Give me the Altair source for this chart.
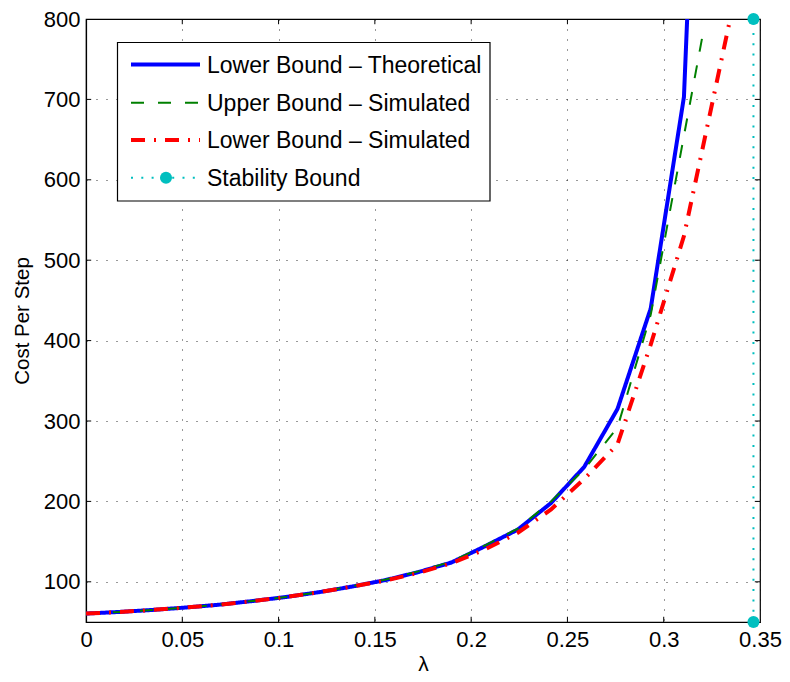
import altair as alt
import pandas as pd

# ---- data ----
lam_theory = [0.0, 0.01725, 0.0345, 0.05175, 0.069, 0.08625, 0.1035, 0.12075, 0.138, 0.15525,
              0.1725, 0.18975, 0.207, 0.22425, 0.2415, 0.25875, 0.276, 0.29325, 0.3105, 0.32775]
cost_theory = [60.5, 62.5, 65, 68, 71.5, 76, 81, 87, 94, 102,
               112, 124, 144, 165, 198, 243, 315, 440, 703, 1700]

lam_upper = [0.0, 0.01725, 0.0345, 0.05175, 0.069, 0.08625, 0.1035, 0.12075, 0.138, 0.15525,
             0.1725, 0.18975, 0.207, 0.22425, 0.2415, 0.25875, 0.276, 0.29325, 0.3206]
cost_upper = [60.5, 62.5, 65, 68, 71.5, 76, 81, 87, 94.5, 102.5,
              113, 125, 145, 166, 200, 240, 292, 432, 785]

lam_lower = [0.0, 0.01725, 0.0345, 0.05175, 0.069, 0.08625, 0.1035, 0.12075, 0.138, 0.15525,
             0.1725, 0.18975, 0.207, 0.22425, 0.2415, 0.25875, 0.276, 0.29325, 0.3105, 0.3345]
cost_lower = [60.5, 62.5, 65, 68, 71.5, 76, 81, 87, 94, 101.5,
              111, 123, 140, 161, 190, 228, 271, 395, 530, 800]

lam_stability = [0.3466, 0.3466]
cost_stability = [50, 800]

series_names = ["Lower Bound \u2013 Theoretical", "Upper Bound \u2013 Simulated",
                "Lower Bound \u2013 Simulated", "Stability Bound"]
series_colors = ["#0000ff", "#008000", "#ff0000", "#00bfbf"]
series_dash = [[1, 0], [13, 14], [14, 9, 2, 9], [2, 8.3]]
series_width = [4, 2, 4, 2]

x_ticks = [0, 0.05, 0.1, 0.15, 0.2, 0.25, 0.3, 0.35]
y_ticks = [100, 200, 300, 400, 500, 600, 700, 800]

FONT = "Liberation Sans"
W, H = 674, 603

xs = alt.Scale(domain=[0, 0.35], nice=False, zero=False)
ys = alt.Scale(domain=[50, 800], nice=False, zero=False)

series_data = [
    pd.DataFrame({"lam": lam_theory, "cost": cost_theory}),
    pd.DataFrame({"lam": lam_upper, "cost": cost_upper}),
    pd.DataFrame({"lam": lam_lower, "cost": cost_lower}),
    pd.DataFrame({"lam": lam_stability, "cost": cost_stability}),
]

layers = []

# base layer carrying the axes / grid
axis_base = alt.Chart(pd.DataFrame({"lam": [0.0], "cost": [50.0]})).mark_point(opacity=0).encode(
    x=alt.X("lam:Q", scale=xs, title="\u03bb",
            axis=alt.Axis(values=x_ticks, format="~g", grid=True, ticks=False,
                          gridDash=[1, 9], gridColor="#000000", gridOpacity=0.8,
                          labelFontSize=22, titleFontSize=21, labelPadding=7,
                          titlePadding=3, labelFlush=False)),
    y=alt.Y("cost:Q", scale=ys, title="Cost Per Step",
            axis=alt.Axis(values=y_ticks, grid=True, ticks=False,
                          gridDash=[1, 9], gridColor="#000000", gridOpacity=0.8,
                          labelFontSize=22, titleFontSize=20.5, labelPadding=6,
                          titlePadding=11, labelFlush=False)),
)
layers.append(axis_base)

for i in range(3):
    layers.append(
        alt.Chart(series_data[i]).mark_line(
            clip=True, color=series_colors[i], strokeDash=series_dash[i],
            strokeWidth=series_width[i], strokeCap="butt").encode(
            x=alt.X("lam:Q", scale=xs), y=alt.Y("cost:Q", scale=ys), order="lam:Q")
    )

stab = alt.Chart(series_data[3])
layers.append(stab.mark_line(color=series_colors[3], strokeDash=series_dash[3],
                             strokeWidth=series_width[3], clip=False).encode(
    x=alt.X("lam:Q", scale=xs), y=alt.Y("cost:Q", scale=ys)))
layers.append(stab.mark_circle(color=series_colors[3], opacity=1, size=145).encode(
    x=alt.X("lam:Q", scale=xs), y=alt.Y("cost:Q", scale=ys)))

# inward tick marks on all four sides
tick_len_x = 0.0027
tick_len_y = 6.5
yt = pd.DataFrame({"v": y_ticks[:-1]})
xt = pd.DataFrame({"v": x_ticks[1:-1]})
layers.append(alt.Chart(yt).mark_rule(color="black", strokeWidth=1).encode(
    y=alt.Y("v:Q", scale=ys), x=alt.datum(0.0, scale=xs), x2=alt.datum(tick_len_x)))
layers.append(alt.Chart(yt).mark_rule(color="black", strokeWidth=1).encode(
    y=alt.Y("v:Q", scale=ys), x=alt.datum(0.35, scale=xs), x2=alt.datum(0.35 - tick_len_x)))
layers.append(alt.Chart(xt).mark_rule(color="black", strokeWidth=1).encode(
    x=alt.X("v:Q", scale=xs), y=alt.datum(50.0, scale=ys), y2=alt.datum(50 + tick_len_y)))
layers.append(alt.Chart(xt).mark_rule(color="black", strokeWidth=1).encode(
    x=alt.X("v:Q", scale=xs), y=alt.datum(800.0, scale=ys), y2=alt.datum(800 - tick_len_y)))

# manual legend
box = alt.Chart(pd.DataFrame({"a": [0]})).mark_rect(
    fill="white", stroke="black", strokeWidth=1.2).encode(
    x=alt.value(31.5), x2=alt.value(404), y=alt.value(23.5), y2=alt.value(182))
layers.append(box)
row_y = [45.5, 83.8, 121.0, 158.7]
for i, name in enumerate(series_names):
    ld = pd.DataFrame({"name": [name]})
    layers.append(alt.Chart(ld).mark_rule(
        color=series_colors[i], strokeDash=series_dash[i], strokeWidth=series_width[i],
        strokeCap="butt").encode(
        x=alt.value(45), x2=alt.value(114), y=alt.value(row_y[i])))
    layers.append(alt.Chart(ld).mark_text(
        align="left", baseline="middle", font=FONT, fontSize=23, color="black").encode(
        x=alt.value(121), y=alt.value(row_y[i] + 1), text="name:N"))
layers.append(alt.Chart(pd.DataFrame({"name": [series_names[3]]})).mark_circle(
    color=series_colors[3], opacity=1, size=145).encode(
    x=alt.value(80), y=alt.value(row_y[3])))

chart = alt.layer(*layers).properties(
    width=W, height=H,
    autosize=alt.AutoSizeParams(type="none"),
    padding={"left": 78, "top": 11, "right": 22, "bottom": 52}
).configure(font=FONT).configure_view(
    stroke="black", strokeWidth=1.2
).configure_axis(
    domainColor="black", domainWidth=1.2, labelColor="black", titleColor="black",
    labelFont=FONT, titleFont=FONT, titleFontWeight="normal"
)

chart.save("out.html", embed_options={"renderer": "svg", "actions": False})
